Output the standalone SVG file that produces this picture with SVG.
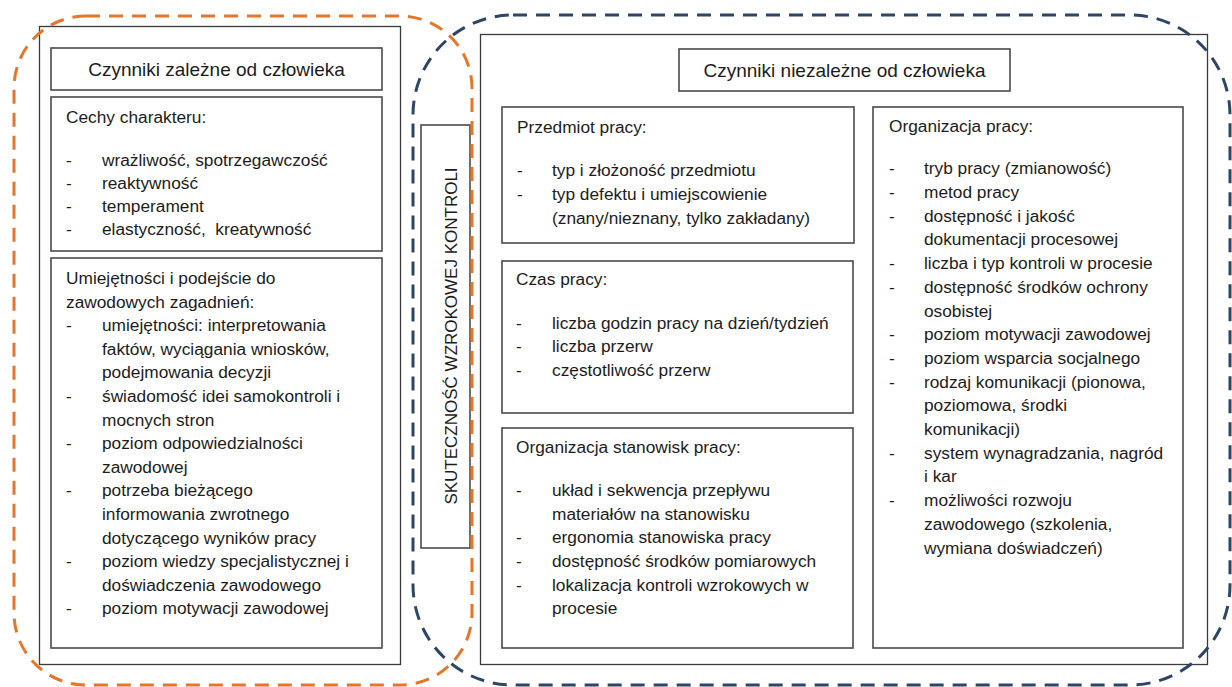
<svg xmlns="http://www.w3.org/2000/svg" width="1232" height="687" viewBox="0 0 1232 687">
  <style>
    .frame { fill: #ffffff; stroke: #3a3a3a; stroke-width: 1.3; }
    .box { fill: #ffffff; stroke: #4a4a4a; stroke-width: 1.6; }
    .t { font-family: "Liberation Sans", Arial, sans-serif; font-size: 17.3px; fill: #1c1c1c; white-space: pre; }
    .title { font-family: "Liberation Sans", Arial, sans-serif; font-size: 19px; fill: #1c1c1c; text-anchor: middle; }
    .vlabel { font-family: "Liberation Sans", Arial, sans-serif; font-size: 17px; fill: #1c1c1c; text-anchor: middle; }
    .human { fill: none; stroke: #e5762a; stroke-width: 3; stroke-dasharray: 14 9; }
    .env { fill: none; stroke: #2e4663; stroke-width: 3; stroke-dasharray: 14 9; }
  </style>

  <!-- Left panel: factors dependent on the person -->
  <g id="human-factors">
    <rect class="frame" x="39.5" y="26.5" width="361" height="638"/>
    <g id="human-title">
      <rect class="box" x="51" y="48" width="331" height="42"/>
      <text class="title" x="216.5" y="76">Czynniki zależne od człowieka</text>
    </g>
    <g id="character-traits">
      <rect class="box" x="51" y="97" width="331" height="154"/>
      <text class="t" x="66" y="123">Cechy charakteru:</text>
      <text class="t" x="66" y="166">-</text><text class="t" x="102" y="166">wrażliwość, spotrzegawczość</text>
      <text class="t" x="66" y="189">-</text><text class="t" x="102" y="189">reaktywność</text>
      <text class="t" x="66" y="212">-</text><text class="t" x="102" y="212">temperament</text>
      <text class="t" x="66" y="235">-</text><text class="t" x="102" y="235" xml:space="preserve">elastyczność,  kreatywność</text>
    </g>
    <g id="skills">
      <rect class="box" x="51" y="258" width="331" height="390"/>
      <text class="t" x="66" y="284">Umiejętności i podejście do</text>
      <text class="t" x="66" y="307.6">zawodowych zagadnień:</text>
      <text class="t" x="66" y="331.2">-</text><text class="t" x="102" y="331.2">umiejętności: interpretowania</text>
      <text class="t" x="102" y="354.8">faktów, wyciągania wniosków,</text>
      <text class="t" x="102" y="378.4">podejmowania decyzji</text>
      <text class="t" x="66" y="402">-</text><text class="t" x="102" y="402">świadomość idei samokontroli i</text>
      <text class="t" x="102" y="425.6">mocnych stron</text>
      <text class="t" x="66" y="449.2">-</text><text class="t" x="102" y="449.2">poziom odpowiedzialności</text>
      <text class="t" x="102" y="472.8">zawodowej</text>
      <text class="t" x="66" y="496.4">-</text><text class="t" x="102" y="496.4">potrzeba bieżącego</text>
      <text class="t" x="102" y="520">informowania zwrotnego</text>
      <text class="t" x="102" y="543.6">dotyczącego wyników pracy</text>
      <text class="t" x="66" y="567.2">-</text><text class="t" x="102" y="567.2">poziom wiedzy specjalistycznej i</text>
      <text class="t" x="102" y="590.8">doświadczenia zawodowego</text>
      <text class="t" x="66" y="614.4">-</text><text class="t" x="102" y="614.4">poziom motywacji zawodowej</text>
    </g>
  </g>

  <!-- Central vertical label -->
  <g id="effectiveness">
    <rect class="box" x="421" y="125" width="49" height="423"/>
    <text class="vlabel" transform="translate(451 336) rotate(-90)" y="6">SKUTECZNOŚĆ WZROKOWEJ KONTROLI</text>
  </g>

  <!-- Right panel: factors independent of the person -->
  <g id="environment-factors">
    <rect class="frame" x="480.5" y="34.5" width="727" height="630"/>
    <g id="environment-title">
      <rect class="box" x="679" y="49" width="331" height="42"/>
      <text class="title" x="844.5" y="77">Czynniki niezależne od człowieka</text>
    </g>
    <g id="work-object">
      <rect class="box" x="502" y="107" width="352" height="136"/>
      <text class="t" x="517" y="133">Przedmiot pracy:</text>
      <text class="t" x="517" y="176">-</text><text class="t" x="552" y="176">typ i złożoność przedmiotu</text>
      <text class="t" x="517" y="200">-</text><text class="t" x="552" y="200">typ defektu i umiejscowienie</text>
      <text class="t" x="552" y="224">(znany/nieznany, tylko zakładany)</text>
    </g>
    <g id="work-time">
      <rect class="box" x="502" y="261" width="351" height="152"/>
      <text class="t" x="516" y="285">Czas pracy:</text>
      <text class="t" x="516" y="329">-</text><text class="t" x="552" y="329">liczba godzin pracy na dzień/tydzień</text>
      <text class="t" x="516" y="352">-</text><text class="t" x="552" y="352">liczba przerw</text>
      <text class="t" x="516" y="376">-</text><text class="t" x="552" y="376">częstotliwość przerw</text>
    </g>
    <g id="workstation">
      <rect class="box" x="502" y="428" width="351" height="220"/>
      <text class="t" x="516" y="453">Organizacja stanowisk pracy:</text>
      <text class="t" x="516" y="496">-</text><text class="t" x="552" y="496">układ i sekwencja przepływu</text>
      <text class="t" x="552" y="520">materiałów na stanowisku</text>
      <text class="t" x="516" y="543">-</text><text class="t" x="552" y="543">ergonomia stanowiska pracy</text>
      <text class="t" x="516" y="567">-</text><text class="t" x="552" y="567">dostępność środków pomiarowych</text>
      <text class="t" x="516" y="591">-</text><text class="t" x="552" y="591">lokalizacja kontroli wzrokowych w</text>
      <text class="t" x="552" y="614">procesie</text>
    </g>
    <g id="work-organisation">
      <rect class="box" x="873" y="107" width="310" height="541"/>
      <text class="t" x="889" y="132">Organizacja pracy:</text>
      <text class="t" x="889" y="174">-</text><text class="t" x="924" y="174">tryb pracy (zmianowość)</text>
      <text class="t" x="889" y="198">-</text><text class="t" x="924" y="198">metod pracy</text>
      <text class="t" x="889" y="221.7">-</text><text class="t" x="924" y="221.7">dostępność i jakość</text>
      <text class="t" x="924" y="245.4">dokumentacji procesowej</text>
      <text class="t" x="889" y="269.1">-</text><text class="t" x="924" y="269.1">liczba i typ kontroli w procesie</text>
      <text class="t" x="889" y="292.8">-</text><text class="t" x="924" y="292.8">dostępność środków ochrony</text>
      <text class="t" x="924" y="316.5">osobistej</text>
      <text class="t" x="889" y="340.2">-</text><text class="t" x="924" y="340.2">poziom motywacji zawodowej</text>
      <text class="t" x="889" y="363.9">-</text><text class="t" x="924" y="363.9">poziom wsparcia socjalnego</text>
      <text class="t" x="889" y="387.6">-</text><text class="t" x="924" y="387.6">rodzaj komunikacji (pionowa,</text>
      <text class="t" x="924" y="411.3">poziomowa, środki</text>
      <text class="t" x="924" y="435">komunikacji)</text>
      <text class="t" x="889" y="458.7">-</text><text class="t" x="924" y="458.7">system wynagradzania, nagród</text>
      <text class="t" x="924" y="482.4">i kar</text>
      <text class="t" x="889" y="506.1">-</text><text class="t" x="924" y="506.1">możliwości rozwoju</text>
      <text class="t" x="924" y="529.8">zawodowego (szkolenia,</text>
      <text class="t" x="924" y="553.5">wymiana doświadczeń)</text>
    </g>
  </g>

  <!-- Dashed grouping outlines -->
  <g id="outlines">
    <rect class="env" x="413" y="15" width="817" height="670" rx="100" ry="100"/>
    <rect class="human" x="14" y="16" width="458" height="669" rx="72" ry="72"/>
  </g>
</svg>
